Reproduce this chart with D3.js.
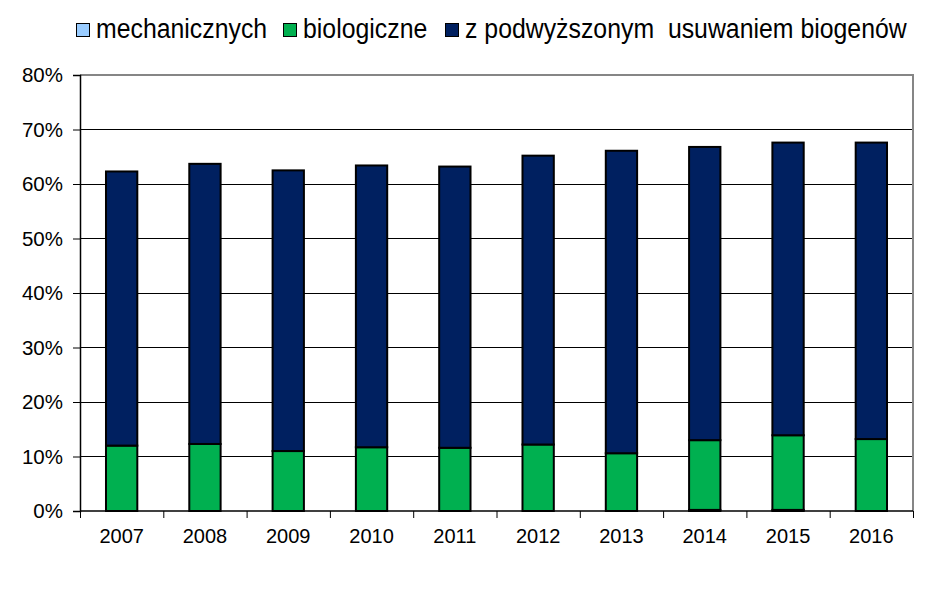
<!DOCTYPE html>
<html>
<head>
<meta charset="utf-8">
<script src="https://cdn.jsdelivr.net/npm/d3@7"></script>
<style>
  body { margin: 0; background: #fff; }
  svg { display: block; font-family: Arial, "Liberation Sans", sans-serif; }
</style>
</head>
<body>
<div id="chart"></div>
<script>
// data (percent)
const years = ["2007", "2008", "2009", "2010", "2011", "2012", "2013", "2014", "2015", "2016"];
const mechaniczne = [0, 0, 0, 0, 0, 0, 0, 0.2, 0.2, 0];
const biologiczne = [12.0, 12.3, 11.0, 11.7, 11.6, 12.2, 10.6, 12.8, 13.7, 13.2];
const podwyzszone = [50.3, 51.4, 51.5, 51.7, 51.6, 53.0, 55.5, 53.8, 53.7, 54.4];
const yTicks = [0, 10, 20, 30, 40, 50, 60, 70, 80];

const seriesNames = ["mechanicznych", "biologiczne", "z podwyższonym  usuwaniem biogenów"];
const colors = ["#99CCFF", "#00B050", "#002060"];

const w = 934, h = 614;
const plotLeft = 80, plotRight = 913, plotTop = 75, plotBottom = 511;

const svg = d3.select("#chart").append("svg")
  .attr("width", w)
  .attr("height", h);

svg.append("rect").attr("width", w).attr("height", h).attr("fill", "#fff");

// table for the stack
const rows = years.map((y, i) => ({ year: y, m: mechaniczne[i], b: biologiczne[i], p: podwyzszone[i] }));
const stacked = d3.stack().keys(["m", "b", "p"])(rows);

const xScale = d3.scaleBand().domain(years).range([plotLeft, plotRight])
  .paddingInner(0.6).paddingOuter(0.3);
const xEdge = d3.scaleLinear().domain([0, years.length]).range([plotLeft, plotRight]);
const yScale = d3.scaleLinear().domain([0, 80]).range([plotBottom, plotTop]);

// gridlines
svg.append("g")
  .selectAll("line")
  .data(yTicks.filter(t => t > 0 && t < 80))
  .enter()
  .append("line")
  .attr("x1", plotLeft).attr("x2", plotRight)
  .attr("y1", d => yScale(d)).attr("y2", d => yScale(d))
  .attr("stroke", "#000").attr("stroke-width", 1)
  .attr("shape-rendering", "crispEdges");

// top + right border of plot area
svg.append("path")
  .attr("d", `M${plotLeft},${yScale(80)}H${plotRight}V${plotBottom}`)
  .attr("fill", "none")
  .attr("stroke", "#868686").attr("stroke-width", 2);

// bars
svg.append("g")
  .selectAll("g")
  .data(stacked)
  .enter()
  .append("g")
  .attr("fill", (d, i) => colors[i])
  .selectAll("rect")
  .data(d => d)
  .enter()
  .append("rect")
  .attr("x", d => xScale(d.data.year) + 1)
  .attr("width", xScale.bandwidth() - 2)
  .attr("y", d => yScale(d[1]))
  .attr("height", d => yScale(d[0]) - yScale(d[1]))
  .attr("stroke", "#000")
  .attr("stroke-width", 2);

// y axis
const yAxis = d3.axisLeft(yScale).tickValues(yTicks).tickSize(7).tickPadding(10)
  .tickFormat(d => d + "%");
const yg = svg.append("g").attr("transform", `translate(${plotLeft},0)`).call(yAxis);
yg.select(".domain").attr("stroke", "#000").attr("stroke-width", 1.5);
yg.selectAll(".tick line").attr("stroke", "#000");
yg.selectAll("text").attr("font-size", 20.5).attr("fill", "#000")
  .attr("font-family", "Arial, 'Liberation Sans', sans-serif");

// x axis: boundary ticks
const xTickAxis = d3.axisBottom(xEdge).tickValues(d3.range(years.length + 1))
  .tickSize(7).tickFormat("");
const xg = svg.append("g").attr("transform", `translate(0,${plotBottom})`).call(xTickAxis);
xg.select(".domain").remove();
xg.selectAll(".tick line").attr("stroke", "#000");
svg.append("line")
  .attr("x1", plotLeft).attr("x2", plotRight)
  .attr("y1", plotBottom).attr("y2", plotBottom)
  .attr("stroke", "#000").attr("stroke-width", 1.5);

// x labels
const xLab = d3.axisBottom(xScale).tickSize(0).tickPadding(18);
const xl = svg.append("g").attr("transform", `translate(0,${plotBottom})`).call(xLab);
xl.select(".domain").remove();
xl.selectAll("text").attr("font-size", 20).attr("fill", "#000")
  .attr("font-family", "Arial, 'Liberation Sans', sans-serif");

// legend
const legendX = [76, 283, 445];
const legend = svg.append("g")
  .selectAll("g")
  .data(seriesNames)
  .enter()
  .append("g")
  .attr("transform", (d, i) => `translate(${legendX[i]},0)`);

legend.append("rect")
  .attr("x", 0.5).attr("y", 23.5)
  .attr("width", 13).attr("height", 13)
  .attr("fill", (d, i) => colors[i])
  .attr("stroke", "#000").attr("stroke-width", 1);

// text in the original looks a bit narrow and tall
legend.append("text")
  .attr("transform", "translate(20,38) scale(0.92,1)")
  .attr("font-size", 27)
  .style("white-space", "pre")
  .attr("fill", "#000")
  .text(d => d);
</script>
</body>
</html>
